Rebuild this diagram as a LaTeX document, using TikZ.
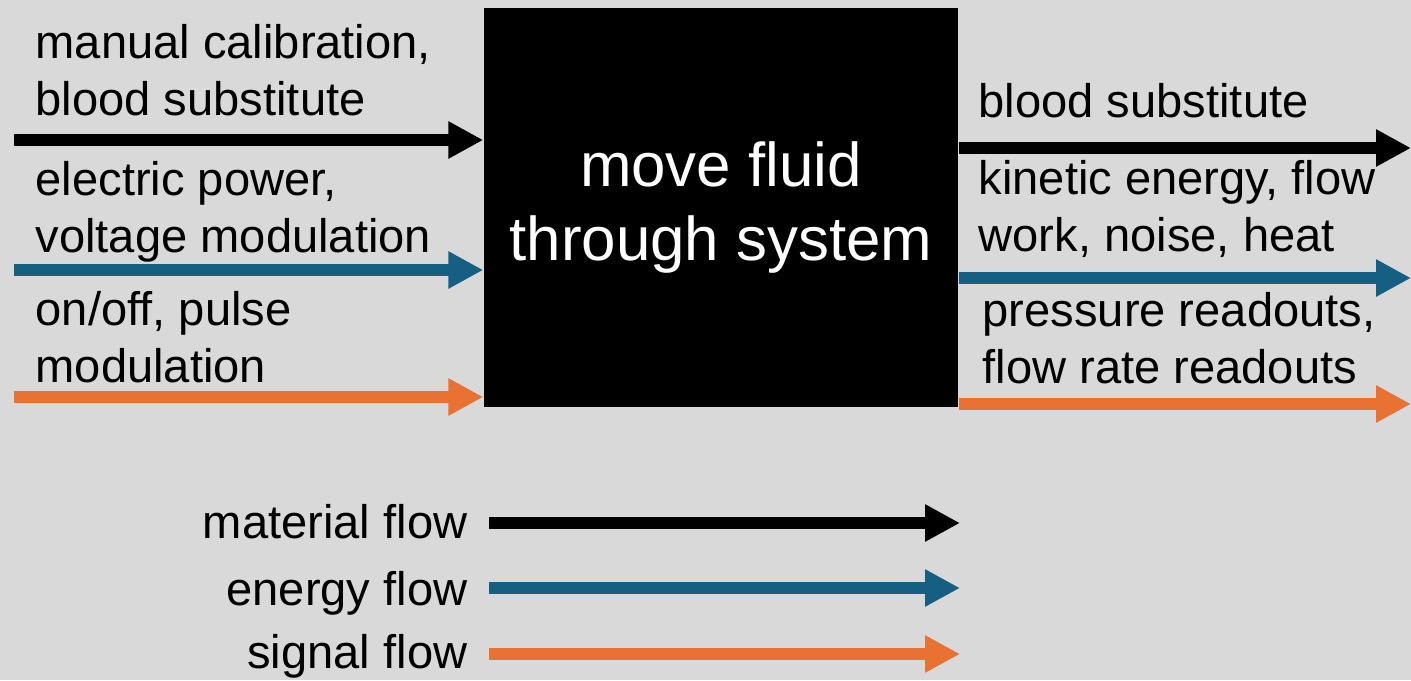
\documentclass[tikz,border=0pt]{standalone}
\usepackage{fontspec}
\setmainfont{Liberation Sans}
\usetikzlibrary{arrows.meta}
\definecolor{bgray}{HTML}{D9D9D9}
\definecolor{eblue}{HTML}{156082}
\definecolor{sorange}{HTML}{E97132}

\begin{document}
\begin{tikzpicture}[
  flow/.style={line width=3.4pt,-{Triangle[length=0.35cm,width=0.35cm]}},
  mat/.style={flow,black},
  nrg/.style={flow,eblue},
  sig/.style={flow,sorange},
  lbl/.style={inner sep=0pt,align=left,font=\fontsize{13.4}{16.2}\selectfont}]
  \useasboundingbox (0,0) rectangle (14.11,6.8);
  \fill[bgray] (0,0) rectangle (14.11,6.8);
  \node[fill=black,text=white,minimum width=4.74cm,minimum height=3.99cm,inner sep=0pt,
        align=center,font=\fontsize{17.6}{21.3}\selectfont] (box) at (7.21,4.725)
        {move fluid\\through system};
  % inputs
  \coordinate (inA) at (0.14,5.40);
  \coordinate (inB) at (0.14,4.10);
  \coordinate (inC) at (0.14,2.83);
  \draw[mat] (inA) -- (inA -| box.west);
  \draw[nrg] (inB) -- (inB -| box.west);
  \draw[sig] (inC) -- (inC -| box.west);
  \node[lbl,anchor=base west] (inAl) at (0.35,5.65) {manual calibration,\\blood substitute};
  \node[lbl,anchor=base west] (inBl) at (0.35,4.28) {electric power,\\voltage modulation};
  \node[lbl,anchor=base west] (inCl) at (0.35,2.98) {on/off, pulse\\modulation};
  % outputs
  \coordinate (outA) at (14.11,5.32);
  \coordinate (outB) at (14.11,4.02);
  \coordinate (outC) at (14.11,2.76);
  \draw[mat] (box.east |- outA) -- (outA);
  \draw[nrg] (box.east |- outB) -- (outB);
  \draw[sig] (box.east |- outC) -- (outC);
  \node[lbl,anchor=base west] (outAl) at (9.78,5.63) {blood substitute};
  \node[lbl,anchor=base west] (outBl) at (9.78,4.29) {kinetic energy, flow\\work, noise, heat};
  \node[lbl,anchor=base west] (outCl) at (9.82,2.97) {pressure readouts,\\flow rate readouts};
  % legend
  \coordinate (legA) at (4.89,1.57);
  \coordinate (legB) at (4.89,0.92);
  \coordinate (legC) at (4.89,0.26);
  \draw[mat] (legA) -- ++(4.71,0);
  \draw[nrg] (legB) -- ++(4.71,0);
  \draw[sig] (legC) -- ++(4.71,0);
  \node[lbl,anchor=base east] (legAl) at (4.68,1.42) {material flow};
  \node[lbl,anchor=base east] (legBl) at (4.68,0.75) {energy flow};
  \node[lbl,anchor=base east] (legCl) at (4.68,0.12) {signal flow};
\end{tikzpicture}
\end{document}
